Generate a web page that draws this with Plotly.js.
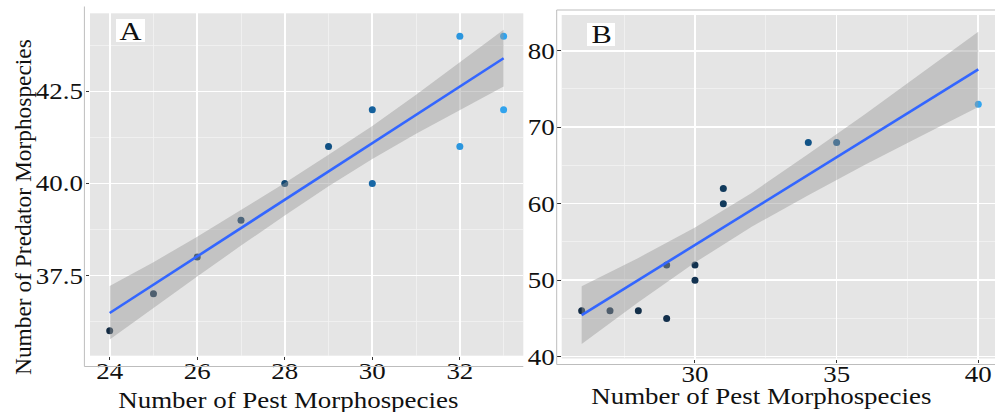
<!DOCTYPE html>
<html>
<head>
<meta charset="utf-8">
<script src="https://cdn.plot.ly/plotly-3.0.1.min.js"></script>
<style>
html,body{margin:0;padding:0;background:#fff;}
#chart{width:995px;height:412px;}
</style>
</head>
<body>
<div id="chart"></div>
<script>
// ---------- Panel A data ----------
const pestA = [24, 25, 26, 27, 28, 29, 30, 30, 32, 32, 33, 33];
const predA = [36, 37, 38, 39, 40, 41, 42, 40, 44, 41, 44, 42];
const shadeA = [0.0, 0.08, 0.15, 0.25, 0.38, 0.48, 0.6, 0.64, 0.9, 0.9, 0.97, 0.97];
const fitXA = [24, 33];
const fitYA = [36.48, 43.40];
const bandXA = [24, 25, 26, 27, 28, 29, 30, 31, 32, 33];
const bandLoA = [35.76, 36.62, 37.47, 38.31, 39.13, 39.92, 40.66, 41.35, 41.98, 42.63];
const bandHiA = [37.21, 37.86, 38.55, 39.27, 40.01, 40.78, 41.56, 42.41, 43.30, 44.17];
const xTicksA = [24, 26, 28, 30, 32];
const yTicksA = [37.5, 40.0, 42.5];
const yTickTextA = ["37.5", "40.0", "42.5"];

// ---------- Panel B data ----------
const pestB = [26, 27, 28, 29, 29, 30, 30, 31, 31, 34, 35, 40];
const predB = [46, 46, 46, 45, 52, 52, 50, 62, 60, 68, 68, 73];
const shadeB = [0.02, 0.05, 0.05, 0.06, 0.08, 0.1, 0.1, 0.2, 0.2, 0.5, 0.55, 0.98];
const fitXB = [26, 40];
const fitYB = [45.42, 77.57];
const bandXB = [26, 28, 30, 32, 34, 36, 38, 40];
const bandLoB = [41.65, 47.11, 52.30, 57.00, 61.09, 65.08, 68.88, 72.65];
const bandHiB = [49.19, 52.91, 56.90, 61.40, 66.49, 71.68, 77.08, 82.49];
const xTicksB = [30, 35, 40];
const yTicksB = [40, 50, 60, 70, 80];

const W = 995, H = 412;
const fx = v => v / W;
const fy = v => 1 - v / H;

const FONT = 'Liberation Serif, Times New Roman, serif';
const scale = [[0, '#132B43'], [0.45, '#0f4c7c'], [0.65, '#1768a8'], [1, '#33a9f4']];
const bandFill = 'rgba(153,153,153,0.45)';
const STRETCH = 1.17;

function panel(xs, ys, shade, fx_, fy_, bx, blo, bhi, xa, ya) {
  return [
    {x: xs, y: ys, type: 'scatter', mode: 'markers', xaxis: xa, yaxis: ya,
     marker: {size: 7, color: shade, colorscale: scale, cmin: 0, cmax: 1, showscale: false},
     hoverinfo: 'skip', showlegend: false},
    {x: bx, y: blo, type: 'scatter', mode: 'lines', xaxis: xa, yaxis: ya,
     line: {width: 0, color: 'rgba(0,0,0,0)'}, hoverinfo: 'skip', showlegend: false},
    {x: bx, y: bhi, type: 'scatter', mode: 'lines', xaxis: xa, yaxis: ya, fill: 'tonexty',
     fillcolor: bandFill, line: {width: 0, color: 'rgba(0,0,0,0)'}, hoverinfo: 'skip', showlegend: false},
    {x: fx_, y: fy_, type: 'scatter', mode: 'lines', xaxis: xa, yaxis: ya,
     line: {color: '#3366FF', width: 2.6}, hoverinfo: 'skip', showlegend: false}
  ];
}

const data = [].concat(
  panel(pestA, predA, shadeA, fitXA, fitYA, bandXA, bandLoA, bandHiA, 'x', 'y'),
  panel(pestB, predB, shadeB, fitXB, fitYB, bandXB, bandLoB, bandHiB, 'x2', 'y2')
);

const axBase = {
  showline: false, zeroline: false, ticks: 'outside', ticklen: 3.5, tickwidth: 1, tickcolor: '#333',
  gridcolor: '#FFFFFF', gridwidth: 1.6, showgrid: true,
  tickfont: {family: FONT, size: 23, color: '#111'}, fixedrange: true
};
const minorGrid = (dt, t0) => ({dtick: dt, tick0: t0, showgrid: true, gridcolor: '#F3F3F3', gridwidth: 0.8, ticks: ''});

const layout = {
  width: W, height: H,
  margin: {l: 0, r: 0, t: 0, b: 0},
  paper_bgcolor: '#FFFFFF',
  plot_bgcolor: '#E5E5E5',
  showlegend: false,
  xaxis: Object.assign({}, axBase, {
    domain: [fx(90), fx(523.3)], range: [23.55, 33.45], anchor: 'y',
    tickmode: 'array', tickvals: xTicksA, ticktext: xTicksA.map(String),
    ticklabelstandoff: -9,
    minor: minorGrid(1, 24)
  }),
  yaxis: Object.assign({}, axBase, {
    domain: [fy(355.7), fy(13.3)], range: [35.32, 44.62], anchor: 'x',
    tickmode: 'array', tickvals: yTicksA, ticktext: yTickTextA,
    ticklabelstandoff: -2,
    minor: minorGrid(1.25, 35)
  }),
  xaxis2: Object.assign({}, axBase, {
    domain: [fx(561.7), 1], range: [25.295, 40.59], anchor: 'y2',
    tickmode: 'array', tickvals: xTicksB, ticktext: xTicksB.map(String),
    ticklabelstandoff: -9,
    minor: minorGrid(2.5, 25)
  }),
  yaxis2: Object.assign({}, axBase, {
    domain: [fy(358.5), fy(15)], range: [39.76, 84.67], anchor: 'x2',
    tickmode: 'array', tickvals: yTicksB, ticktext: yTicksB.map(String),
    ticklabelstandoff: -2,
    minor: minorGrid(5, 40)
  }),
  shapes: [
    {type: 'line', xref: 'paper', yref: 'paper', x0: fx(84.4), x1: fx(84.4), y0: fy(6.5), y1: fy(366.5), line: {color: '#BDBDBD', width: 1}},
    {type: 'line', xref: 'paper', yref: 'paper', x0: fx(84.4), x1: fx(523.3), y0: fy(366.5), y1: fy(366.5), line: {color: '#BDBDBD', width: 1}},
    {type: 'line', xref: 'paper', yref: 'paper', x0: fx(556.7), x1: 1, y0: fy(10), y1: fy(10), line: {color: '#BDBDBD', width: 1}},
    {type: 'line', xref: 'paper', yref: 'paper', x0: fx(556.7), x1: fx(556.7), y0: fy(10), y1: fy(364.5), line: {color: '#BDBDBD', width: 1}},
    {type: 'line', xref: 'paper', yref: 'paper', x0: fx(556.7), x1: 1, y0: fy(364.5), y1: fy(364.5), line: {color: '#BDBDBD', width: 1}},
    {type: 'rect', xref: 'paper', yref: 'paper', x0: fx(116), x1: fx(145), y0: fy(19), y1: fy(42), fillcolor: '#FFFFFF', line: {width: 0}},
    {type: 'rect', xref: 'paper', yref: 'paper', x0: fx(587), x1: fx(615), y0: fy(23), y1: fy(46), fillcolor: '#FFFFFF', line: {width: 0}}
  ],
  annotations: [
    {text: 'A', xref: 'paper', yref: 'paper', x: fx(130.5), y: fy(31.5), showarrow: false,
     xanchor: 'center', yanchor: 'middle', font: {family: FONT, size: 26, color: '#111'}},
    {text: 'B', xref: 'paper', yref: 'paper', x: fx(601), y: fy(35), showarrow: false,
     xanchor: 'center', yanchor: 'middle', font: {family: FONT, size: 26, color: '#111'}},
    {text: 'Number of Pest Morphospecies', xref: 'paper', yref: 'paper', x: fx(288), y: fy(400), showarrow: false,
     xanchor: 'center', yanchor: 'middle', font: {family: FONT, size: 23, color: '#111'}},
    {text: 'Number of Pest Morphospecies', xref: 'paper', yref: 'paper', x: fx(761), y: fy(396), showarrow: false,
     xanchor: 'center', yanchor: 'middle', font: {family: FONT, size: 23, color: '#111'}},
    {text: 'Number of Predator Morphospecies', xref: 'paper', yref: 'paper', x: fx(23), y: fy(207), showarrow: false,
     textangle: -90, xanchor: 'center', yanchor: 'middle', font: {family: FONT, size: 23.4, color: '#111'}}
  ]
};

// Reference text is horizontally widened; widen the glyphs (the browser keeps the anchor).
function stretchText(t) {
  const w = t.getComputedTextLength();
  if (!(w > 0)) return;
  t.setAttribute('textLength', (w * STRETCH).toFixed(2));
  t.setAttribute('lengthAdjust', 'spacingAndGlyphs');
}

Plotly.newPlot('chart', data, layout, {staticPlot: true, displayModeBar: false}).then(gd => {
  gd.querySelectorAll('.xtick text, .ytick text, .x2tick text, .y2tick text').forEach(stretchText);
  gd.querySelectorAll('.annotation').forEach(a => {
    if (a.getAttribute('data-index') === '4') return;
    const t = a.querySelector('text');
    if (t) stretchText(t);
  });
});
</script>
</body>
</html>
